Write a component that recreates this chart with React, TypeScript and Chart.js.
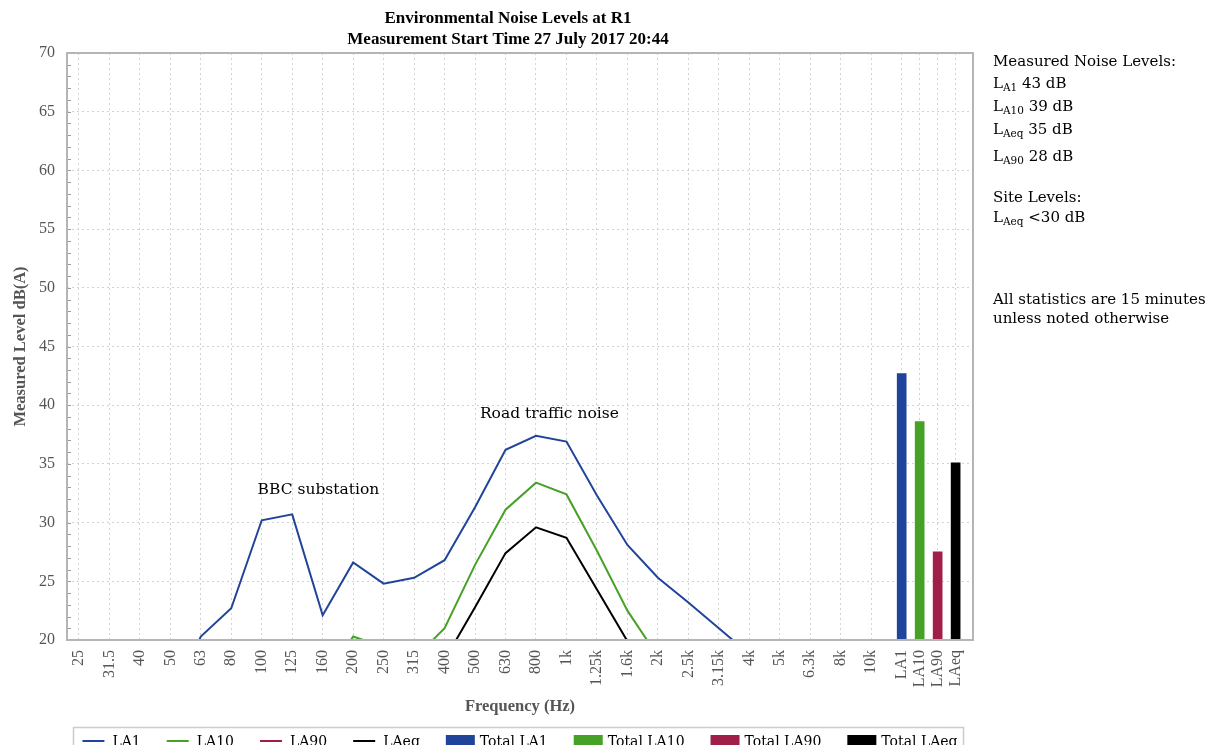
import React, { useEffect, useRef } from 'react';
import { Chart, registerables } from 'chart.js';

Chart.register(...registerables);

// ---------- data ----------
const FREQ_LABELS = ['25', '31.5', '40', '50', '63', '80', '100', '125', '160', '200', '250', '315', '400', '500', '630', '800', '1k', '1.25k', '1.6k', '2k', '2.5k', '3.15k', '4k', '5k', '6.3k', '8k', '10k'];
const TOTAL_LABELS = ['LA1', 'LA10', 'LA90', 'LAeq'];

const LA1 = [14.0, 13.5, 13.0, 14.5, 20.3, 22.7, 30.2, 30.7, 22.1, 26.6, 24.8, 25.3, 26.8, 31.3, 36.2, 37.4, 36.9, 32.3, 28.1, 25.3, 23.2, 21.0, 18.8, 17.2, 15.8, 14.5, 13.0];
const LA10 = [10.5, 10.0, 10.0, 11.0, 13.0, 15.0, 18.5, 19.0, 16.3, 20.3, 19.4, 18.4, 21.0, 26.4, 31.1, 33.4, 32.4, 27.6, 22.5, 18.6, 16.5, 15.0, 13.5, 12.0, 10.8, 9.8, 8.8];
const LA90 = [7.0, 7.0, 7.5, 8.0, 9.5, 11.0, 13.0, 13.5, 12.0, 14.0, 14.5, 15.0, 16.0, 18.0, 19.5, 19.8, 19.0, 16.5, 13.5, 11.5, 10.0, 9.0, 8.0, 7.0, 6.5, 6.0, 5.5];
const LAEQ = [9.0, 9.0, 9.5, 10.0, 11.5, 13.0, 16.5, 17.0, 14.0, 17.5, 17.0, 16.5, 18.3, 22.8, 27.4, 29.6, 28.7, 24.3, 19.9, 16.5, 14.5, 13.0, 11.5, 10.0, 9.0, 8.0, 7.5];

const TOTALS = [42.7, 38.6, 27.5, 35.1];

const Y_TICK_MIN = 20;
const Y_TICK_MAX = 70;
const Y_TICK_STEP = 5;

const ANNOTATIONS = [
  { text: 'BBC substation', x: 7.86, y: 32.8 },
  { text: 'Road traffic noise', x: 15.44, y: 39.25 },
];

// ---------- layout / style ----------
const TOTAL_STEP = 0.59; // spacing of the total bars, in band units
const X_MIN = -0.39;
const X_MAX = 29.34;

const BLUE = '#21449b';
const GREEN = '#47a127';
const MAROON = '#a01f48';
const BLACK = '#000000';

const GRID_COLOR = '#d2d2d2';
const AXIS_TEXT = '#555555';
const TICK_FONT = { family: '"Liberation Serif", serif', size: 16 };
const SERIF2 = '"DejaVu Serif", serif';

const TICK_POS = [
  ...FREQ_LABELS.map((_, i) => i),
  ...TOTAL_LABELS.map((_, k) => FREQ_LABELS.length + k * TOTAL_STEP),
];
const ALL_LABELS = [...FREQ_LABELS, ...TOTAL_LABELS];

const lineSeries = (label: string, values: number[], color: string) => ({
  type: 'line' as const,
  label,
  data: values.map((v, i) => ({ x: i, y: v })),
  borderColor: color,
  backgroundColor: color,
  borderWidth: 2,
  pointRadius: 0,
  tension: 0,
});

const barSeries = (label: string, k: number, color: string) => ({
  type: 'bar' as const,
  label,
  data: [{ x: FREQ_LABELS.length + k * TOTAL_STEP, y: TOTALS[k] }],
  backgroundColor: color,
  borderColor: color,
  borderWidth: 0,
  barThickness: 9,
  grouped: false,
});

const framePlugin = {
  id: 'frame',
  afterDatasetsDraw(chart: any) {
    const { ctx, chartArea: a, scales } = chart;
    ctx.save();
    // annotations
    ctx.fillStyle = '#000';
    ctx.font = `15.5px ${SERIF2}`;
    ctx.textAlign = 'center';
    ctx.textBaseline = 'middle';
    ANNOTATIONS.forEach((an) => {
      ctx.fillText(an.text, scales.x.getPixelForValue(an.x), scales.y.getPixelForValue(an.y));
    });
    // minor ticks on left border
    ctx.strokeStyle = '#999';
    ctx.lineWidth = 1;
    ctx.beginPath();
    for (let v = Y_TICK_MIN; v <= Y_TICK_MAX; v += 1) {
      const y = Math.round(scales.y.getPixelForValue(v)) + 0.5;
      ctx.moveTo(a.left, y);
      ctx.lineTo(a.left + 4, y);
    }
    ctx.stroke();
    // plot border
    ctx.strokeStyle = '#b5b5b5';
    ctx.lineWidth = 2;
    ctx.strokeRect(a.left, a.top, a.right - a.left, a.bottom - a.top);
    ctx.restore();
  },
  afterDraw(chart: any) {
    // legend drawn below the x axis, centred on the plot area
    const { ctx, chartArea: a } = chart;
    ctx.save();
    ctx.font = `14px ${SERIF2}`;
    const items = chart.data.datasets.map((ds: any) => {
      const isBar = ds.type === 'bar';
      const sw = isBar ? 29 : 22;
      const gap = isBar ? 5 : 8;
      const tw = ctx.measureText(ds.label).width;
      return { ds, isBar, sw, gap, w: sw + gap + tw };
    });
    const itemGap = 26;
    const total = items.reduce((s: number, it: any) => s + it.w, 0) + itemGap * (items.length - 1);
    const cy = chart.height - 18;
    let x = (a.left + a.right) / 2 - total / 2;
    ctx.strokeStyle = '#cccccc';
    ctx.lineWidth = 1.5;
    ctx.strokeRect(Math.round(x - 9) + 0.5, cy - 14 + 0.5, Math.round(total + 15), 32);
    ctx.textBaseline = 'middle';
    ctx.textAlign = 'left';
    items.forEach((it: any) => {
      const c = it.ds.borderColor;
      if (it.isBar) {
        ctx.fillStyle = c;
        ctx.fillRect(x, cy - 6, it.sw, 12);
      } else {
        ctx.strokeStyle = c;
        ctx.lineWidth = 2;
        ctx.beginPath();
        ctx.moveTo(x, cy);
        ctx.lineTo(x + it.sw, cy);
        ctx.stroke();
      }
      ctx.fillStyle = '#000';
      ctx.fillText(it.ds.label, x + it.sw + it.gap, cy + 1);
      x += it.w + itemGap;
    });
    ctx.restore();
  },
};

export default function App() {
  const ref = useRef<HTMLCanvasElement | null>(null);

  useEffect(() => {
    document.documentElement.style.overflow = 'hidden';
    if (!ref.current) return;
    const chart = new Chart(ref.current, {
      type: 'line',
      data: {
        datasets: [
          lineSeries('LA1', LA1, BLUE),
          lineSeries('LA10', LA10, GREEN),
          lineSeries('LA90', LA90, MAROON),
          lineSeries('LAeq', LAEQ, BLACK),
          barSeries('Total LA1', 0, BLUE),
          barSeries('Total LA10', 1, GREEN),
          barSeries('Total LA90', 2, MAROON),
          barSeries('Total LAeq', 3, BLACK),
        ] as any,
      },
      options: {
        animation: false,
        responsive: false,
        devicePixelRatio: 1,
        layout: { padding: { left: 0, right: 0, top: 0, bottom: 37 } },
        plugins: {
          tooltip: { enabled: false },
          legend: { display: false },
          title: {
            display: true,
            text: ['Environmental Noise Levels at R1', 'Measurement Start Time 27 July 2017 20:44'],
            color: '#000',
            font: { family: '"Liberation Serif", serif', size: 17, weight: 'bold', lineHeight: 1.25 },
            padding: { top: 0, bottom: 2.5 },
          },
        },
        scales: {
          x: {
            type: 'linear',
            min: X_MIN,
            max: X_MAX,
            offset: false,
            afterBuildTicks: (s: any) => {
              s.ticks = TICK_POS.map((v) => ({ value: v }));
            },
            afterFit: (s: any) => {
              s.height = 82;
            },
            ticks: {
              autoSkip: false,
              minRotation: 90,
              maxRotation: 90,
              padding: 10,
              color: AXIS_TEXT,
              font: TICK_FONT,
              callback: (_v: any, i: number) => ALL_LABELS[i],
            },
            grid: { color: GRID_COLOR, drawTicks: false, lineWidth: 1, offset: false },
            border: { display: false, dash: [2, 3] },
            title: {
              display: true,
              text: 'Frequency (Hz)',
              color: AXIS_TEXT,
              font: { family: '"Liberation Serif", serif', size: 16.5, weight: 'bold' },
              padding: { top: 0, bottom: 5 },
            },
          },
          y: {
            type: 'linear',
            min: Y_TICK_MIN,
            max: Y_TICK_MAX,
            afterFit: (s: any) => {
              s.width = 59;
            },
            ticks: { stepSize: Y_TICK_STEP, padding: 12, color: AXIS_TEXT, font: TICK_FONT },
            grid: { color: GRID_COLOR, drawTicks: false, lineWidth: 1 },
            border: { display: false, dash: [2, 3] },
            title: {
              display: true,
              text: 'Measured Level dB(A)',
              color: AXIS_TEXT,
              font: { family: '"Liberation Serif", serif', size: 16.5, weight: 'bold' },
              padding: { top: 3, bottom: 0 },
            },
          },
          yRight: {
            type: 'linear',
            position: 'right',
            min: 0,
            max: 1,
            display: true,
            grid: { display: false, drawTicks: false },
            ticks: { display: false },
            border: { display: false },
            afterFit: (s: any) => {
              s.width = 35;
            },
          },
        },
      } as any,
      plugins: [framePlugin],
    });
    return () => chart.destroy();
  }, []);

  const sub = { fontSize: '10.5px', verticalAlign: '-3px' } as React.CSSProperties;
  const line = (top: number): React.CSSProperties => ({ position: 'absolute', left: 985, top, whiteSpace: 'nowrap' });

  return (
    <div style={{ position: 'relative', width: 1200, height: 745, overflow: 'hidden', marginBottom: -8 }}>
      <canvas ref={ref} width={1000} height={751} style={{ display: 'block', position: 'absolute', left: 0, top: 0 }} />
      <div style={{ position: 'absolute', left: 0, top: 0, fontFamily: SERIF2, fontSize: 15, color: '#000', lineHeight: '18px' }}>
        <div style={line(44)}>Measured Noise Levels:</div>
        <div style={line(66)}>L<span style={sub}>A1</span> 43 dB</div>
        <div style={line(89)}>L<span style={sub}>A10</span> 39 dB</div>
        <div style={line(112)}>L<span style={sub}>Aeq</span> 35 dB</div>
        <div style={line(139)}>L<span style={sub}>A90</span> 28 dB</div>
        <div style={line(180)}>Site Levels:</div>
        <div style={line(200)}>L<span style={sub}>Aeq</span> &lt;30 dB</div>
        <div style={line(282)}>All statistics are 15 minutes</div>
        <div style={line(301)}>unless noted otherwise</div>
      </div>
    </div>
  );
}
